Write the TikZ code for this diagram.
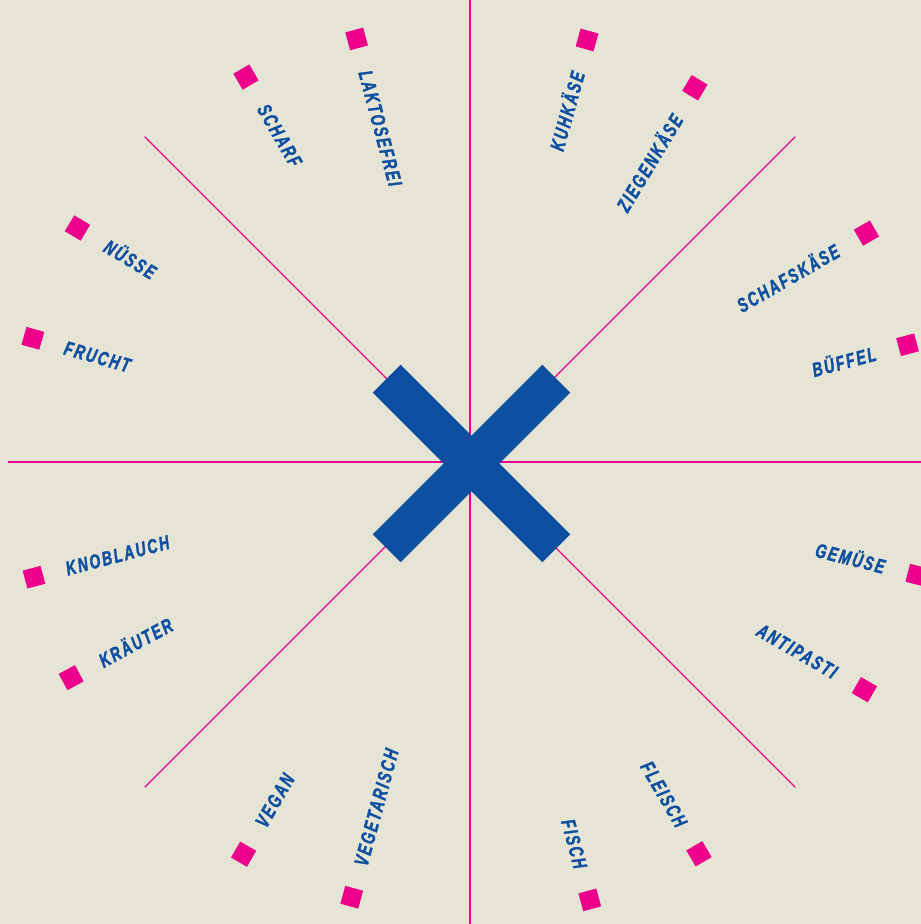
\documentclass[tikz,border=0pt]{standalone}
\usepackage{fontspec}
\newfontfamily\labelfont[FakeStretch=0.7,FakeBold=1.6,LetterSpace=10]{Liberation Sans}
\definecolor{paper}{RGB}{230,228,212}
\definecolor{cheesepink}{RGB}{236,0,140}
\definecolor{cheeseblue}{RGB}{13,79,160}
\tikzset{
  spoke/.style={cheesepink, line width=1.1pt},
  marker/.style={fill=cheesepink, minimum size=18.5pt, inner sep=0pt},
  tag/.style={cheeseblue, font=\labelfont\bfseries\itshape\fontsize{20}{20}\selectfont,
    inner sep=0pt, text height=14.3pt, text depth=0pt},
  bar/.style={fill=cheeseblue}
}

\begin{document}
\begin{tikzpicture}[x=1pt,y=1pt]
  \useasboundingbox (-470,-462) rectangle (451,462);
  \clip (-470,-462) rectangle (451,462);
  \fill[paper] (-470,-462) rectangle (451,462);
  \coordinate (hub) at (0,0);
  \foreach \a in {0,90,180,270}
    \draw[spoke] (hub) -- (\a:462);
  \foreach \a in {45,135,225,315}
    \draw[spoke] (hub) -- (\a:460);
  \fill[bar, shift={(1.5,-1.5)}, rotate=45] (-120,-19.7) rectangle (120,19.7);
  \fill[bar, shift={(1.5,-1.5)}, rotate=-45] (-120,-19.7) rectangle (120,19.7);
  \foreach \a/\r/\txt [count=\i, evaluate=\r as \rr using \r-33] in
    {74.5/438/KUHKÄSE, 59/436.6/ZIEGENKÄSE, 30/457.8/SCHAFSKÄSE, 15/453/BÜFFEL,
     -14.2/460.8/GEMÜSE, -30/455.4/ANTIPASTI, -59.7/453.8/FLEISCH, -74.7/454/FISCH}
  {
    \node[marker, rotate=\a] (sq-r\i) at (\a:\r) {};
    \node[tag, rotate=\a, anchor=east] (tag-r\i) at (\a:\rr) {\txt};
  }
  \foreach \a/\r/\txt [count=\i, evaluate=\r as \rr using \r-33] in
    {105/438/LAKTOSEFREI, 120.2/445.4/SCHARF, 149.2/457/NÜSSE, 164.2/454.3/FRUCHT,
     194.8/451/KNOBLAUCH, 208.4/453.4/KRÄUTER, 240/452.8/VEGAN, 254.8/451/VEGETARISCH}
  {
    \node[marker, rotate=\a] (sq-l\i) at (\a:\r) {};
    \node[tag, rotate=\a-180, anchor=west] (tag-l\i) at (\a:\rr) {\txt};
  }
\end{tikzpicture}
\end{document}
